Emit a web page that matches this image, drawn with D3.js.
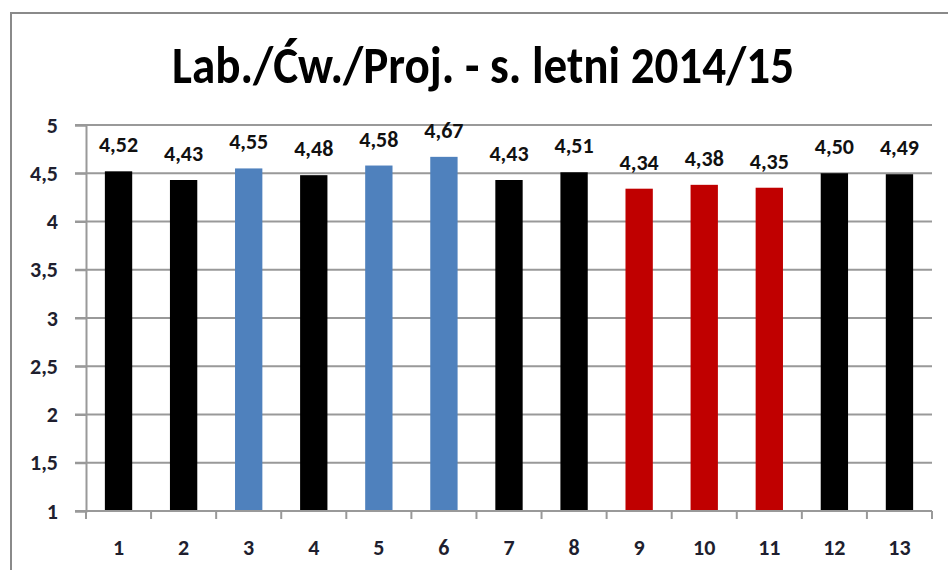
<!DOCTYPE html>
<html>
<head>
<meta charset="utf-8">
<script src="https://cdn.jsdelivr.net/npm/d3@7"></script>
<style>
  body { margin: 0; background: #fff; }
  text { font-family: Carlito, Calibri, "Liberation Sans", sans-serif; }
</style>
</head>
<body>
<svg width="948" height="570"></svg>
<script>
// data
var categories = ["1","2","3","4","5","6","7","8","9","10","11","12","13"];
var values = [4.52, 4.43, 4.55, 4.48, 4.58, 4.67, 4.43, 4.51, 4.34, 4.38, 4.35, 4.50, 4.49];
var groups = ["k","k","b","k","b","b","k","k","r","r","r","k","k"];
var yTicks = [1, 1.5, 2, 2.5, 3, 3.5, 4, 4.5, 5];
var title = "Lab./Ćw./Proj. - s. letni 2014/15";

var colors = { k: "#000000", b: "#4f81bd", r: "#c00000" };
var fmt = function(v) { return d3.format(".2f")(v).replace(".", ","); };
var tickFmt = function(v) { return String(v).replace(".", ","); };
var font = "Carlito, Calibri, 'Liberation Sans', sans-serif";

let svg = d3.select("svg");

// outer chart frame
svg.append("path")
    .attr("d", "M11,580 V13 H960")
    .attr("fill", "none")
    .attr("stroke", "#8a8a8a")
    .attr("stroke-width", 2);

svg.append("text")
    .attr("x", 483)
    .attr("y", 83)
    .attr("text-anchor", "middle")
    .attr("font-size", 52)
    .attr("font-weight", "bold")
    .attr("fill", "#000")
    .attr("textLength", 622)
    .attr("lengthAdjust", "spacingAndGlyphs")
    .text(title);

var x = d3.scaleBand()
    .domain(categories)
    .range([86, 932])
    .paddingInner(0.58)
    .paddingOuter(0.29);

var y = d3.scaleLinear()
    .domain([1, 5])
    .range([511, 125]);

// gridlines
svg.append("g")
    .selectAll("line")
    .data(yTicks)
    .enter().append("line")
      .attr("x1", 75)
      .attr("x2", 932)
      .attr("y1", d => y(d))
      .attr("y2", d => y(d))
      .attr("stroke", "#999")
      .attr("stroke-width", 2);

// y axis
var yAxis = svg.append("g")
    .attr("transform", "translate(86,0)")
    .call(d3.axisLeft(y).tickValues(yTicks).tickFormat(tickFmt).tickSize(11).tickPadding(17));
yAxis.select(".domain").attr("stroke", "#999").attr("stroke-width", 2);
yAxis.selectAll(".tick line").attr("stroke", "#999").attr("stroke-width", 2);
yAxis.selectAll("text")
    .attr("font-size", 22)
    .attr("font-weight", "bold")
    .attr("fill", "#1f1f2f")
    .attr("font-family", font);

// bars
svg.append("g")
    .selectAll("rect")
    .data(values)
    .enter().append("rect")
      .attr("x", (d, i) => x(categories[i]))
      .attr("width", x.bandwidth())
      .attr("y", d => y(d))
      .attr("height", d => y(1) - y(d))
      .attr("fill", (d, i) => colors[groups[i]]);

// value labels
svg.append("g")
    .selectAll("text")
    .data(values)
    .enter().append("text")
      .attr("x", (d, i) => x(categories[i]) + x.bandwidth() / 2)
      .attr("y", d => y(d) - 19)
      .attr("text-anchor", "middle")
      .attr("font-size", 22)
      .attr("font-weight", "bold")
      .attr("fill", "#111")
      .text(fmt);

// x axis: ticks at band boundaries
var bounds = d3.range(categories.length + 1).map(i => 86 + i * (846 / categories.length));
var xg = svg.append("g");
xg.append("line")
    .attr("x1", 86).attr("x2", 932)
    .attr("y1", y(1)).attr("y2", y(1))
    .attr("stroke", "#999").attr("stroke-width", 2);
xg.selectAll(".tk")
    .data(bounds)
    .enter().append("line")
      .attr("class", "tk")
      .attr("x1", d => d).attr("x2", d => d)
      .attr("y1", y(1)).attr("y2", y(1) + 8)
      .attr("stroke", "#999").attr("stroke-width", 2);
xg.selectAll("text")
    .data(categories)
    .enter().append("text")
      .attr("x", d => x(d) + x.bandwidth() / 2)
      .attr("y", 555)
      .attr("text-anchor", "middle")
      .attr("font-size", 22)
      .attr("font-weight", "bold")
      .attr("fill", "#1f1f2f")
      .text(d => d);
</script>
</body>
</html>
